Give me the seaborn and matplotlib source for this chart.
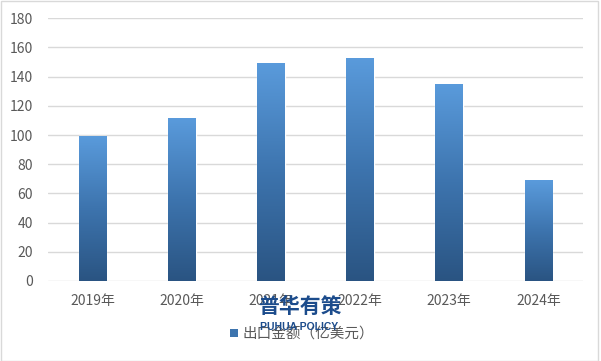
import numpy as np
import pandas as pd
import matplotlib
matplotlib.use("Agg")
import matplotlib.pyplot as plt
import seaborn as sns
from matplotlib.colors import LinearSegmentedColormap
from matplotlib.patches import Rectangle

# Export value by year (100 million USD)
years = ["2019年", "2020年", "2021年", "2022年", "2023年", "2024年"]
export_value = [99.5, 111.7, 149.4, 152.8, 135.0, 69.2]
series_name = "出口金额（亿美元）"
y_ticks = [0, 20, 40, 60, 80, 100, 120, 140, 160, 180]

sns.set_theme(style="white")
plt.rcParams["font.family"] = ["Noto Sans CJK SC", "DejaVu Sans"]

W, H = 601, 361
fig = plt.figure(figsize=(W / 100, H / 100), dpi=100)
fig.patch.set_facecolor("white")
ax = fig.add_axes([48 / W, 1 - 281 / H, 535 / W, (281 - 18.3) / H])

df = pd.DataFrame({"year": years, "value": export_value})
sns.barplot(data=df, x="year", y="value", ax=ax, width=0.31,
            color="#4A86C5", saturation=1, errorbar=None)

# vertical gradient fill on every bar: dark at the base, light at the top
cmap = LinearSegmentedColormap.from_list("bar", ["#2A5482", "#3D74AE", "#5A9BDC"])
grad = np.linspace(0, 1, 256).reshape(-1, 1)
for p in ax.patches:
    x0, y0 = p.get_x(), p.get_y()
    w, h = p.get_width(), p.get_height()
    im = ax.imshow(grad, cmap=cmap, origin="lower", aspect="auto",
                   extent=[x0, x0 + w, y0, y0 + h], zorder=p.get_zorder() + 0.1,
                   interpolation="bilinear")
    im.set_clip_path(p)

ax.set_xlim(-0.5, len(years) - 0.5)
ax.set_ylim(0, 180)
ax.set_yticks(y_ticks)
ax.set_xlabel("")
ax.set_ylabel("")
ax.yaxis.grid(True, color="#D9D9D9", linewidth=1)
ax.xaxis.grid(False)
ax.set_axisbelow(True)
for s in ax.spines.values():
    s.set_visible(False)
ax.tick_params(axis="y", length=0, labelsize=10, labelcolor="#595959", pad=11)
ax.tick_params(axis="x", length=0, labelsize=10, labelcolor="#595959", pad=9)

# outer chart border
fig.patches.append(Rectangle((0.5 / W, 0.5 / H), 597.5 / W, 359.5 / H,
                             transform=fig.transFigure, fill=False,
                             edgecolor="#D9D9D9", linewidth=1))

# legend
handle = Rectangle((0, 0), 1, 1, facecolor="#3D74AE", edgecolor="none")
fig.legend([handle], [series_name], loc="center",
           bbox_to_anchor=(302 / W, 1 - 334 / H), frameon=False,
           handlelength=0.55, handleheight=0.55, handletextpad=0.3,
           prop={"size": 10.5}, labelcolor="#595959")

# watermark
fig.text(300 / W, 1 - 306 / H, "普华有策", ha="center", va="center",
         fontsize=15, fontweight="bold", color="#1C4C8C", zorder=10)
fig.text(299 / W, 1 - 327 / H, "PUHUA POLICY", ha="center", va="center",
         fontsize=7.5, fontweight="bold", color="#1C4C8C", zorder=10,
         family=["Liberation Sans", "DejaVu Sans"])

fig.savefig("out.png", dpi=100)
